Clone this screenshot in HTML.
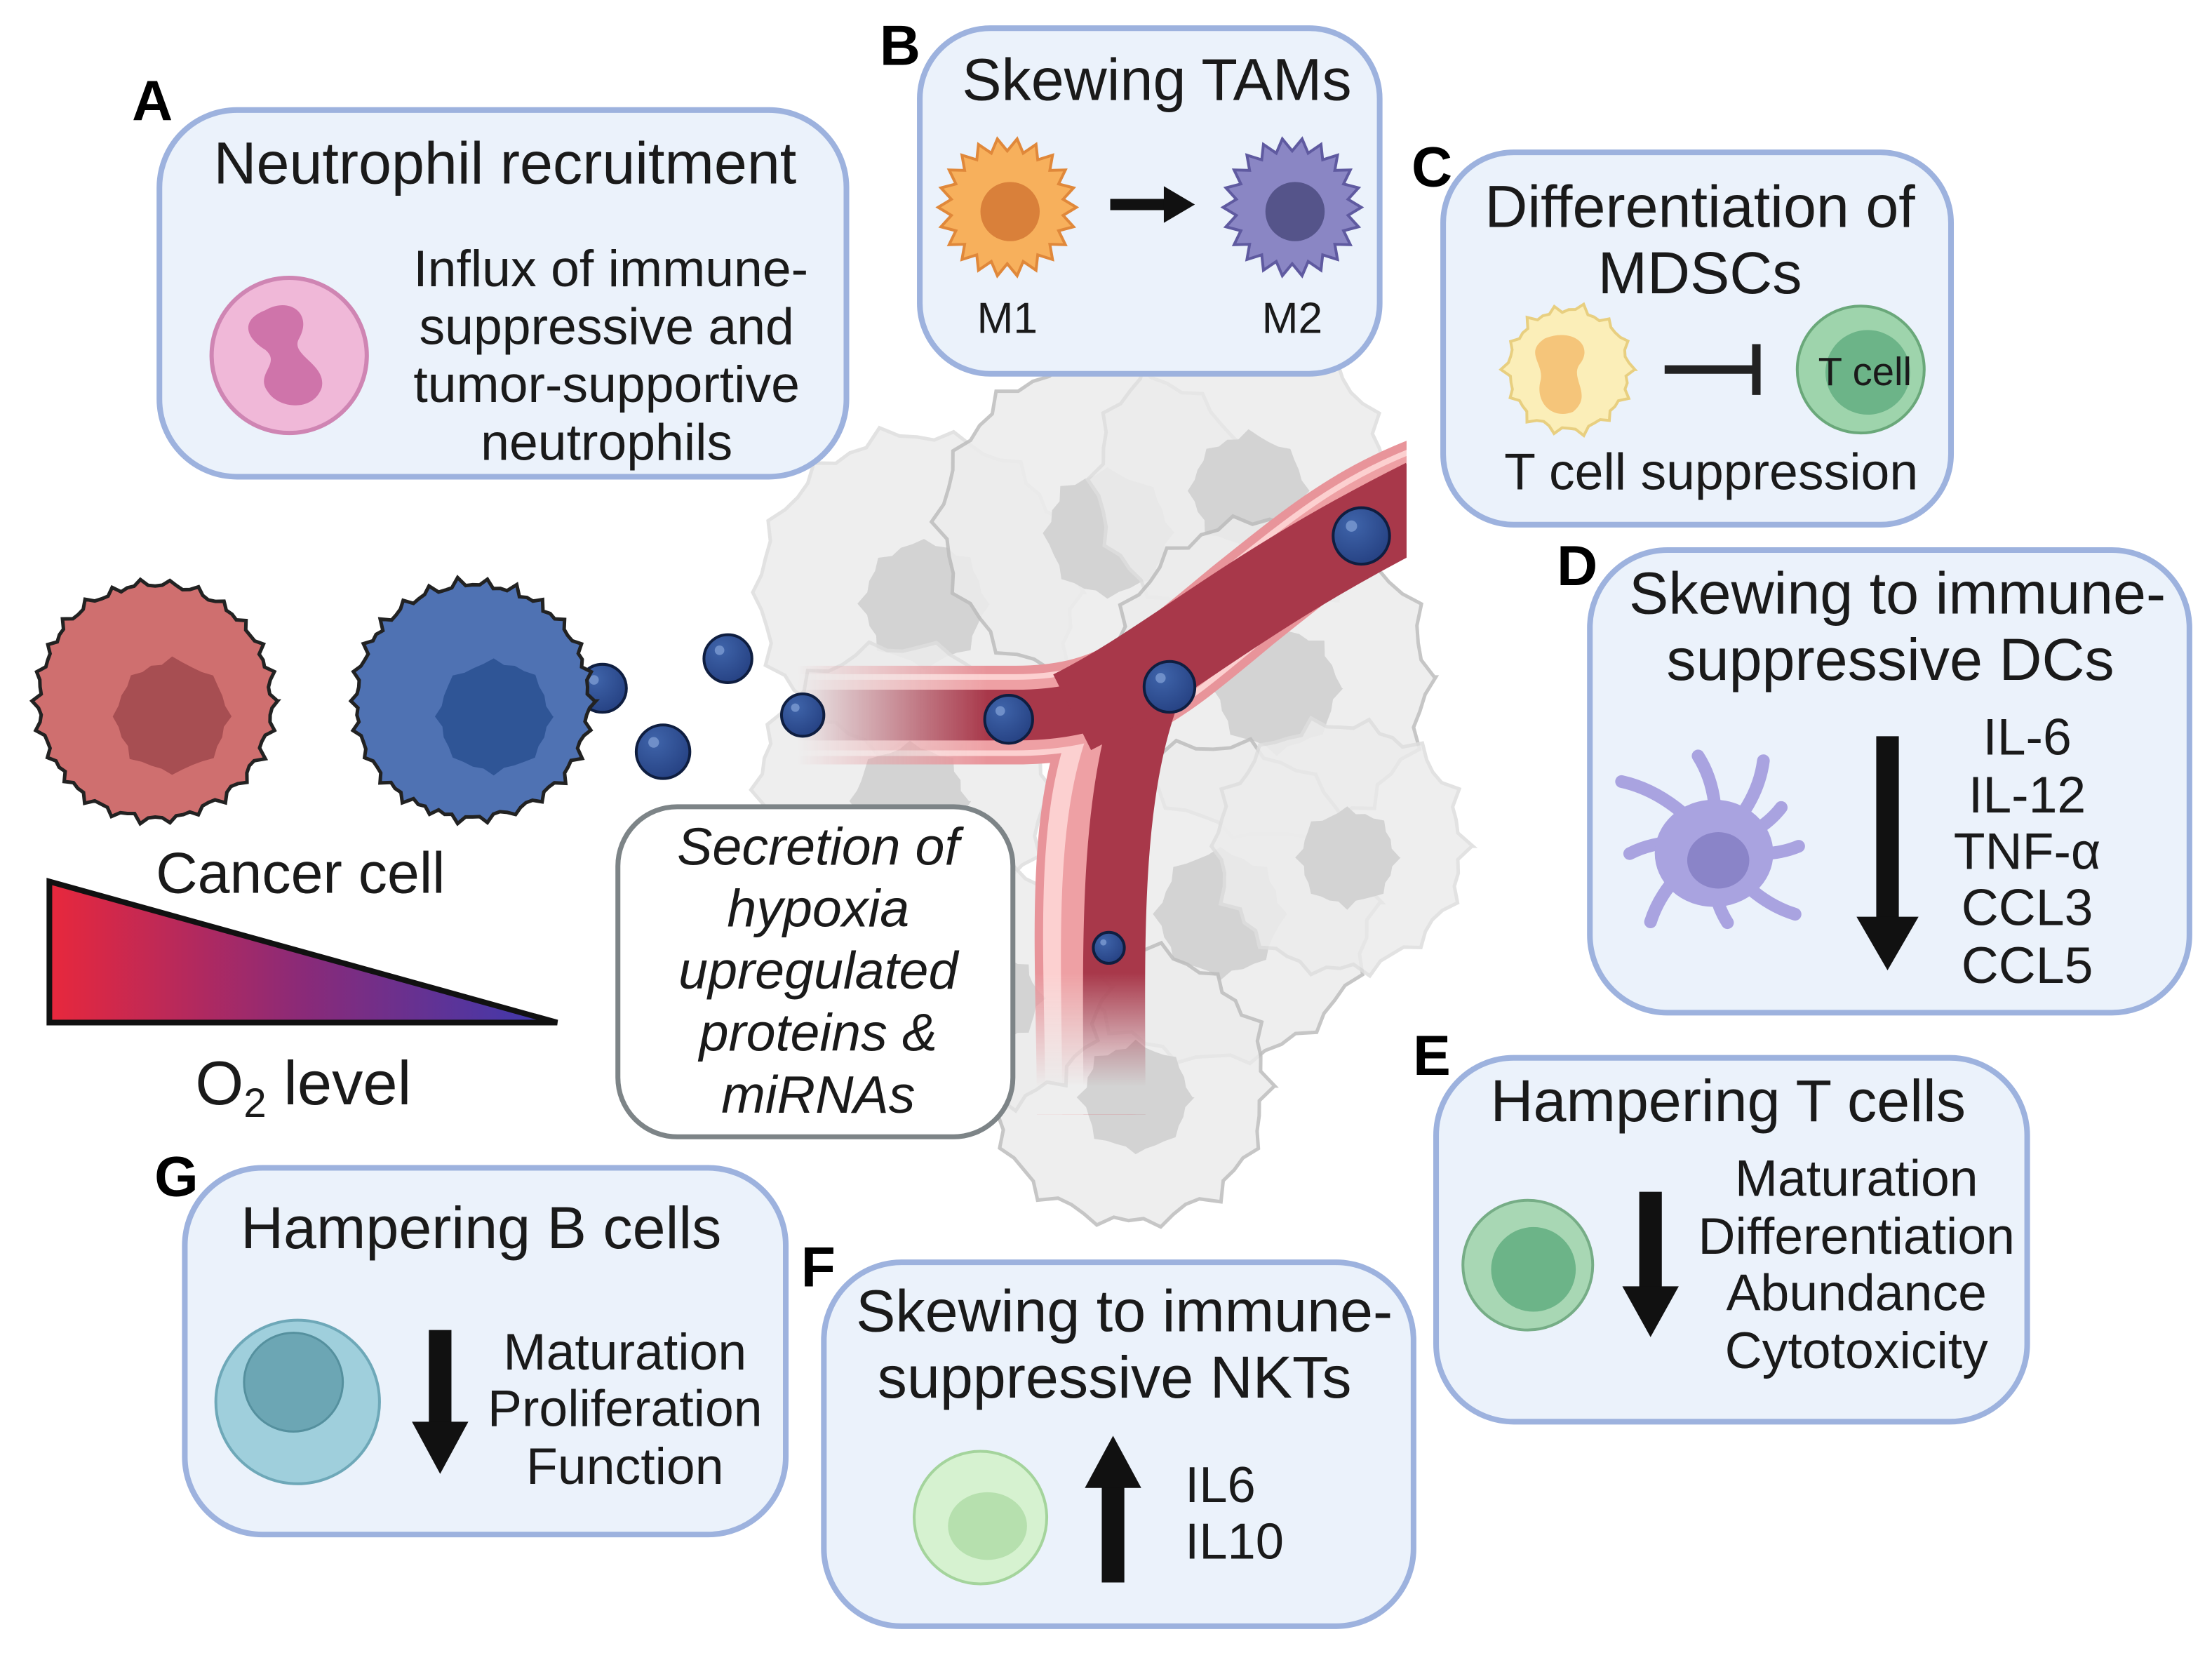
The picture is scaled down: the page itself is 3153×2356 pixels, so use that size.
<!DOCTYPE html>
<html><head><meta charset="utf-8"><style>
html,body{margin:0;padding:0;background:#fff}
svg{display:block}
text{font-family:"Liberation Sans","DejaVu Sans",sans-serif;fill:#1a1a1a}
.t{font-size:42px;text-anchor:middle}
.s{font-size:36.5px;text-anchor:middle}
.L{font-size:40px;font-weight:bold;text-anchor:middle;fill:#000}
.box{fill:#ebf2fb;stroke:#9db2de;stroke-width:4}
</style></head><body>
<svg id="g" width="3153" height="2356" viewBox="0 0 1568 1172" preserveAspectRatio="none" xmlns="http://www.w3.org/2000/svg">
<defs>
<linearGradient id="tri" x1="0" x2="1" y1="0" y2="0"><stop offset="0" stop-color="#e8283c"/><stop offset="0.5" stop-color="#8a2a78"/><stop offset="1" stop-color="#3a3ab0"/></linearGradient>
<linearGradient id="mL" x1="565" x2="700" y1="0" y2="0" gradientUnits="userSpaceOnUse"><stop offset="0" stop-color="#000"/><stop offset="1" stop-color="#fff"/></linearGradient>
<linearGradient id="mB" x1="0" x2="0" y1="690" y2="770" gradientUnits="userSpaceOnUse"><stop offset="0" stop-color="#fff"/><stop offset="1" stop-color="#000"/></linearGradient>
<mask id="vm" maskUnits="userSpaceOnUse" x="0" y="0" width="1568" height="1172">
<rect x="565" y="0" width="432" height="1172" fill="url(#mL)"/>
<rect x="700" y="0" width="297" height="690" fill="#fff"/>
<rect x="700" y="690" width="160" height="100" fill="url(#mB)"/>
</mask>
<radialGradient id="ball" cx="0.35" cy="0.3" r="0.8"><stop offset="0" stop-color="#3f64aa"/><stop offset="1" stop-color="#243f80"/></radialGradient>
</defs>
<g id="tumor"></g>
<!-- vessel -->
<g fill="none" stroke-linecap="butt" mask="url(#vm)">
<path d="M565 507 L720 507 C790 507 820 480 880 430 C930 390 960 365 1010 345" stroke="#e8949a" stroke-width="70"/>
<path d="M790 515 C760 580 770 680 770 790" stroke="#e8949a" stroke-width="70"/>
<path d="M565 507 L720 507 C790 507 820 480 880 430 C930 390 960 365 1010 345" stroke="#fcd0d0" stroke-width="58"/>
<path d="M790 515 C760 580 770 680 770 790" stroke="#fcd0d0" stroke-width="58"/>
<path d="M565 507 L720 507 C790 507 820 480 880 430 C930 390 960 365 1010 345" stroke="#eea0a4" stroke-width="50"/>
<path d="M800 515 C770 580 778 680 778 790" stroke="#eea0a4" stroke-width="50"/>
<path d="M565 507 L720 507 C790 507 820 480 880 430 C930 390 960 365 1010 345" stroke="#a8384a" stroke-width="36"/>
<path d="M815 490 C785 570 790 680 790 790" stroke="#a8384a" stroke-width="44"/>
<path d="M760 505 C830 470 880 420 1010 355" stroke="#a8384a" stroke-width="60"/>
</g>
<g id="balls"></g>
<g id="cancer"></g>
<text class="t" x="213" y="633" style="font-size:41px">Cancer cell</text>
<polygon points="35,625 35,725 395,725" fill="url(#tri)" stroke="#111" stroke-width="4"/>
<text class="t" x="215" y="783" style="font-size:44px">O<tspan font-size="29" dy="9">2</tspan><tspan dy="-9"> level</tspan></text>
<!-- secretion box -->
<rect x="438" y="572" width="280" height="234" rx="42" fill="#fff" stroke="#7d8487" stroke-width="3.5"/>
<g>
<text class="t" font-style="italic" style="font-size:37.5px" x="580" y="613">Secretion of</text>
<text class="t" font-style="italic" style="font-size:37.5px" x="580" y="657">hypoxia</text>
<text class="t" font-style="italic" style="font-size:37.5px" x="580" y="701">upregulated</text>
<text class="t" font-style="italic" style="font-size:37.5px" x="580" y="745">proteins &amp;</text>
<text class="t" font-style="italic" style="font-size:37.5px" x="580" y="789">miRNAs</text>
</g>
<!-- A -->
<rect class="box" x="113" y="78" width="487" height="260" rx="55"/>
<text class="L" x="108" y="85">A</text>
<text class="t" x="358" y="130">Neutrophil recruitment</text>
<circle cx="205" cy="252" r="55" fill="#f0b8d8" stroke="#cf85b3" stroke-width="3"/>
<path d="M188 220 C205 210 222 222 212 240 C205 252 232 258 228 275 C222 292 198 290 190 278 C180 265 200 258 188 248 C172 238 172 226 188 220Z" fill="#cf74aa"/>
<text class="s" x="433" y="203">Influx of immune-</text>
<text class="s" x="430" y="244">suppressive and</text>
<text class="s" x="430" y="285">tumor-supportive</text>
<text class="s" x="430" y="326">neutrophils</text>
<!-- B -->
<rect class="box" x="652" y="20" width="326" height="245" rx="50"/>
<text class="L" x="638" y="46">B</text>
<text class="t" x="820" y="71">Skewing TAMs</text>
<g id="tams"></g>
<path d="M787 145 L830 145" stroke="#111" stroke-width="8"/>
<polygon points="825,132 847,145 825,158" fill="#111"/>
<text class="s" x="714" y="236" style="font-size:31px">M1</text>
<text class="s" x="916" y="236" style="font-size:31px">M2</text>
<!-- C -->
<rect class="box" x="1023" y="108" width="360" height="264" rx="50"/>
<text class="L" x="1015" y="132">C</text>
<text class="t" x="1205" y="161">Differentiation of</text>
<text class="t" x="1205" y="208">MDSCs</text>
<g id="mdsc"></g>
<path d="M1180 262 L1245 262 M1245 244 L1245 280" stroke="#222" stroke-width="6"/>
<circle cx="1319" cy="262" r="45" fill="#9ed4ac" stroke="#6aa87a" stroke-width="2"/>
<circle cx="1324" cy="264" r="30" fill="#6cb488"/>
<text x="1322" y="273" style="font-size:28px;text-anchor:middle">T cell</text>
<text class="s" x="1213" y="347">T cell suppression</text>
<!-- D -->
<rect class="box" x="1127" y="390" width="425" height="328" rx="55"/>
<text class="L" x="1118" y="415">D</text>
<text class="t" x="1345" y="435">Skewing to immune-</text>
<text class="t" x="1340" y="482">suppressive DCs</text>
<g id="dc"></g>
<rect x="1330" y="522" width="16" height="130" fill="#111"/>
<polygon points="1316,650 1360,650 1338,688" fill="#111"/>
<text class="s" x="1437" y="535">IL-6</text><text class="s" x="1437" y="576">IL-12</text><text class="s" x="1437" y="616">TNF-α</text><text class="s" x="1437" y="656">CCL3</text><text class="s" x="1437" y="697">CCL5</text>
<!-- E -->
<rect class="box" x="1018" y="750" width="419" height="258" rx="55"/>
<text class="L" x="1015" y="762">E</text>
<text class="t" x="1225" y="795">Hampering T cells</text>
<circle cx="1083" cy="897" r="46" fill="#a8d7b4" stroke="#76ad86" stroke-width="2"/>
<circle cx="1087" cy="900" r="30" fill="#6cb488"/>
<rect x="1162" y="845" width="16" height="70" fill="#111"/>
<polygon points="1150,912 1190,912 1170,948" fill="#111"/>
<text class="s" x="1316" y="848">Maturation</text><text class="s" x="1316" y="889">Differentiation</text><text class="s" x="1316" y="929">Abundance</text><text class="s" x="1316" y="970">Cytotoxicity</text>
<!-- F -->
<rect class="box" x="584" y="895" width="418" height="258" rx="55"/>
<text class="L" x="580" y="912">F</text>
<text class="t" x="797" y="944">Skewing to immune-</text>
<text class="t" x="790" y="991">suppressive NKTs</text>
<circle cx="695" cy="1076" r="47" fill="#d6f2d0" stroke="#a4d49c" stroke-width="2"/>
<ellipse cx="700" cy="1082" rx="28" ry="24" fill="#b6e0ae"/>
<rect x="781" y="1052" width="16" height="70" fill="#111"/>
<polygon points="769,1055 809,1055 789,1018" fill="#111"/>
<text x="840" y="1065" style="font-size:36px">IL6</text><text x="840" y="1105" style="font-size:36px">IL10</text>
<!-- G -->
<rect class="box" x="131" y="828" width="426" height="260" rx="55"/>
<text class="L" x="125" y="848">G</text>
<text class="t" x="341" y="885">Hampering B cells</text>
<circle cx="211" cy="994" r="58" fill="#9fcfdc" stroke="#6ea8b8" stroke-width="2"/>
<circle cx="208" cy="980" r="35" fill="#6ca6b4" stroke="#55909e" stroke-width="1.5"/>
<rect x="304" y="943" width="16" height="68" fill="#111"/>
<polygon points="292,1008 332,1008 312,1045" fill="#111"/>
<text class="s" x="443" y="971">Maturation</text><text class="s" x="443" y="1011">Proliferation</text><text class="s" x="443" y="1052">Function</text>
</svg>
<script>
var NS="http://www.w3.org/2000/svg";
function el(p,t,a){var e=document.createElementNS(NS,t);for(var k in a)e.setAttribute(k,a[k]);document.getElementById(p).appendChild(e);return e;}
function blob(cx,cy,r,n,amp,seed){var d="";var s=seed||1;for(var i=0;i<=n*4;i++){var a=i/(n*4)*Math.PI*2;s=(s*9301+49297)%233280;var rr=r+((i%4==0)?amp:0)+(s/233280-0.5)*amp*0.5;d+=(i?"L":"M")+(cx+rr*Math.cos(a)).toFixed(1)+" "+(cy+rr*Math.sin(a)).toFixed(1);}return d+"Z";}
function spiky(cx,cy,r,n,amp){var d="";for(var i=0;i<n*2;i++){var a=i/(n*2)*Math.PI*2;var rr=i%2?r:r+amp;d+=(i?"L":"M")+(cx+rr*Math.cos(a)).toFixed(1)+" "+(cy+rr*Math.sin(a)).toFixed(1);}return d+"Z";}
[[650,420,110],[780,370,110],[880,340,100],[900,480,110],[640,560,100],[860,640,110],[950,600,85],[800,770,95],[700,700,80]].forEach(function(c,i){
el("tumor","path",{d:blob(c[0],c[1],c[2],14,8,i+3),fill:"#ececec",stroke:i%2?"#bdbdbd":"#dedede","stroke-width":2.5,opacity:0.85});
el("tumor","path",{d:blob(c[0]+5,c[1]+8,c[2]*0.38,8,5,i+7),fill:"#d3d3d3"});});
[[427,488,17],[516,467,17],[470,533,19],[569,507,15],[715,510,17],[829,487,18],[965,380,20],[786,672,11]].forEach(function(b){
el("balls","circle",{cx:b[0],cy:b[1],r:b[2],fill:"url(#ball)",stroke:"#0f1e40","stroke-width":2});
el("balls","circle",{cx:b[0]-b[2]*0.35,cy:b[1]-b[2]*0.35,r:b[2]*0.2,fill:"#6f8fc9"});});
el("cancer","path",{d:blob(110,497,82,26,5,5),fill:"#cf6f6f",stroke:"#222","stroke-width":2.5});
el("cancer","path",{d:blob(122,508,38,8,4,9),fill:"#a74e52"});
el("cancer","path",{d:blob(335,497,82,26,5,11),fill:"#4f72b3",stroke:"#222","stroke-width":2.5});
el("cancer","path",{d:blob(350,508,38,8,4,13),fill:"#2f5596"});
el("tams","path",{d:spiky(714,147,40,22,9),fill:"#f7b05c",stroke:"#e0883a","stroke-width":2});
el("tams","circle",{cx:716,cy:150,r:21,fill:"#d9803a"});
el("tams","path",{d:spiky(916,147,40,22,9),fill:"#8a86c4",stroke:"#5f5aa0","stroke-width":2});
el("tams","circle",{cx:918,cy:150,r:21,fill:"#55548a"});
el("mdsc","path",{d:blob(1112,262,42,14,5,4),fill:"#fbeeb8",stroke:"#e8cf80","stroke-width":2});
el("mdsc","path",{d:"M1095 240 C1115 232 1130 245 1120 258 C1112 268 1130 280 1115 292 C1100 298 1088 285 1092 270 C1095 258 1080 250 1095 240Z",fill:"#f5c57a"});
[[0,60],[40,75],[80,55],[130,70],[175,60],[215,80],[260,65],[300,70],[330,55]].forEach(function(a){var t=a[0]*Math.PI/180;
el("dc","path",{d:"M1215 600 Q"+(1215+a[1]*0.6*Math.cos(t+0.3))+" "+(600+a[1]*0.6*Math.sin(t+0.3))+" "+(1215+a[1]*Math.cos(t))+" "+(600+a[1]*Math.sin(t)),stroke:"#a9a3e0","stroke-width":9,fill:"none","stroke-linecap":"round"});});
el("dc","ellipse",{cx:1215,cy:605,rx:42,ry:38,fill:"#a9a3e0"});
el("dc","ellipse",{cx:1218,cy:610,rx:22,ry:20,fill:"#8a84c8"});
</script>
</body></html>
